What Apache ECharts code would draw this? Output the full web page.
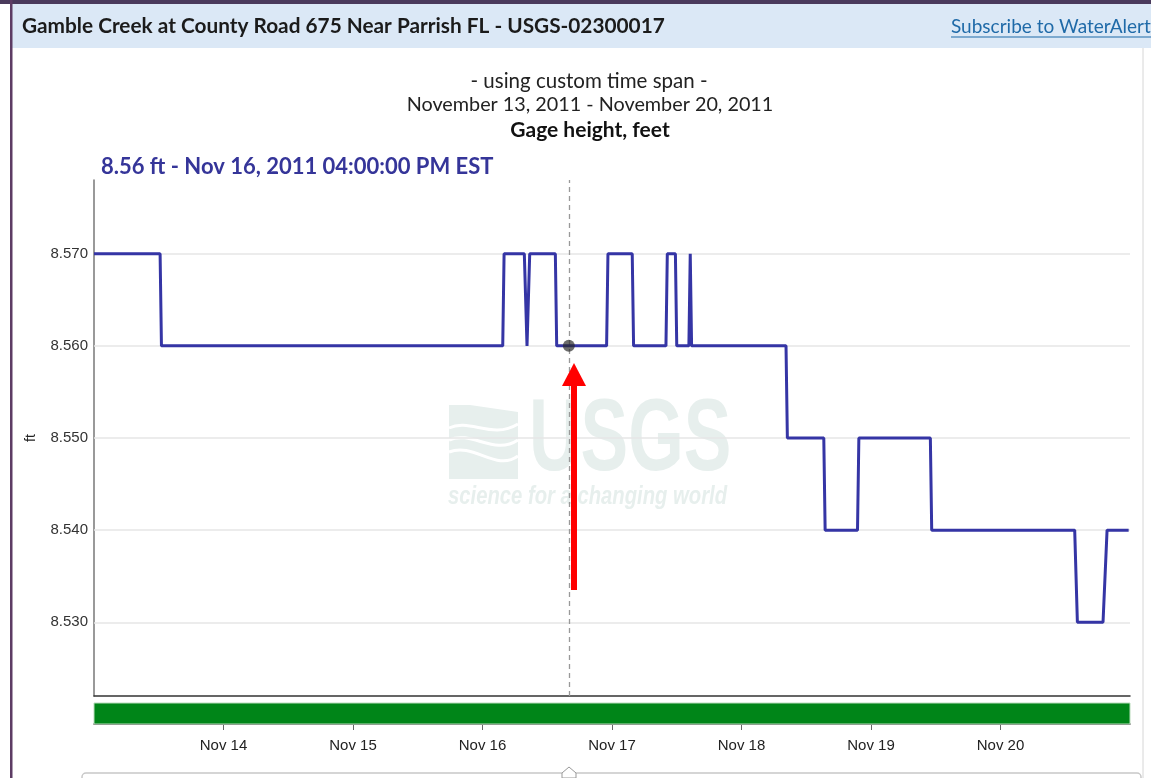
<!DOCTYPE html>
<html>
<head>
<meta charset="utf-8">
<title>Gage height</title>
<script src="https://cdn.jsdelivr.net/npm/echarts@6/dist/echarts.min.js"></script>
<style>
  html, body { margin: 0; padding: 0; background: #fff; }
  #chart { width: 1151px; height: 778px; }
</style>
</head>
<body>
<div id="chart"></div>
<script>
// hours since Nov 13, 2011 00:00 EST, and gage height in feet
var hours = [0, 12.25, 12.5, 75.75, 76.0, 79.75, 80.25, 80.75, 85.5, 85.75,
  95.0, 95.25, 99.75, 100.0, 106.0, 106.25, 107.75, 108.0, 110.25, 110.5,
  110.75, 128.25, 128.5, 135.25, 135.5, 141.5, 141.75, 155.0, 155.25, 181.75,
  182.25, 187.0, 187.75, 191.75];
var gageFt = [8.57, 8.57, 8.56, 8.56, 8.57, 8.57, 8.56, 8.57, 8.57, 8.56,
  8.56, 8.57, 8.57, 8.56, 8.56, 8.57, 8.57, 8.56, 8.56, 8.57,
  8.56, 8.56, 8.55, 8.55, 8.54, 8.54, 8.55, 8.55, 8.54, 8.54,
  8.53, 8.53, 8.54, 8.54];

var yTicks = [8.53, 8.54, 8.55, 8.56, 8.57];
var dayTicks = [24, 48, 72, 96, 120, 144, 168];
var dayLabels = ['Nov 14', 'Nov 15', 'Nov 16', 'Nov 17', 'Nov 18', 'Nov 19', 'Nov 20'];
var cursorPoint = [88, 8.56];      // Nov 16 04:00 PM
var approvedSpan = [0, 192];       // approved data for whole window

var lineColor = '#3535a5';
var watermark = '#e7efed';

var seriesData = hours.map(function (h, i) { return [h, gageFt[i]]; });

var myChart = echarts.init(document.getElementById('chart'));

var option = {
  animation: false,
  backgroundColor: '#fff',
  grid: [
    { left: 94, right: 21, top: 180, height: 516 },
    { left: 94, right: 21, top: 703, height: 21 }
  ],
  xAxis: [
    {
      type: 'value', gridIndex: 0, min: 0, max: 192,
      axisLine: { show: true, lineStyle: { color: '#333', width: 1.5 } },
      axisTick: { show: false }, axisLabel: { show: false }, splitLine: { show: false }
    },
    {
      type: 'value', gridIndex: 1, min: 0, max: 192, position: 'bottom', offset: 6,
      axisLine: { show: true, lineStyle: { color: '#333', width: 1.5 } },
      axisTick: { show: true, customValues: dayTicks, length: 6, lineStyle: { color: '#666' } },
      axisLabel: {
        customValues: dayTicks, margin: 8, color: '#222', fontSize: 15,
        fontFamily: 'Liberation Sans',
        formatter: function (v) { return dayLabels[dayTicks.indexOf(v)] || ''; }
      },
      splitLine: { show: false }
    }
  ],
  yAxis: [
    {
      type: 'value', gridIndex: 0, min: 8.522, max: 8.578,
      name: 'ft', nameLocation: 'middle', nameGap: 56, nameRotate: 90,
      nameTextStyle: { color: '#222', fontSize: 14, fontFamily: 'Liberation Sans' },
      axisLine: { show: true, lineStyle: { color: '#777', width: 1.5 } },
      axisTick: { show: false },
      axisLabel: {
        customValues: yTicks, margin: 6, color: '#333', fontSize: 15,
        fontFamily: 'Liberation Sans',
        formatter: function (v) { return v.toFixed(3); }
      },
      splitLine: { show: false }
    },
    { type: 'value', gridIndex: 1, min: 0, max: 1, show: false }
  ],
  series: [
    {
      // horizontal grid lines
      type: 'line', xAxisIndex: 0, yAxisIndex: 0, data: [], silent: true, z: 1,
      markLine: {
        silent: true, symbol: 'none', label: { show: false }, z: 1,
        lineStyle: { color: '#e6e6e6', width: 1.5, type: 'solid' },
        data: yTicks.map(function (v) { return { yAxis: v }; })
      }
    },
    {
      name: 'Gage height', type: 'line', xAxisIndex: 0, yAxisIndex: 0,
      data: seriesData, showSymbol: false, symbol: 'none', z: 3,
      lineStyle: { color: lineColor, width: 3 },
      markLine: {
        silent: true, symbol: 'none', label: { show: false }, z: 2,
        lineStyle: { color: '#999', width: 1.3, type: [5, 4] },
        data: [{ xAxis: cursorPoint[0] }]
      }
    },
    {
      type: 'scatter', xAxisIndex: 0, yAxisIndex: 0, data: [cursorPoint], z: 4,
      symbolSize: 12, itemStyle: { color: 'rgba(40,40,40,0.85)' }
    },
    {
      // approval status bar
      type: 'line', xAxisIndex: 1, yAxisIndex: 1, silent: true,
      data: [[approvedSpan[0], 0.5], [approvedSpan[1], 0.5]],
      symbol: 'none', lineStyle: { opacity: 0 },
      markArea: {
        silent: true,
        itemStyle: { color: '#008518', borderColor: '#b9dcbc', borderWidth: 1 },
        data: [[{ xAxis: approvedSpan[0], yAxis: 0 }, { xAxis: approvedSpan[1], yAxis: 1 }]]
      }
    }
  ],
  graphic: [
    // page chrome
    { type: 'rect', shape: { x: 0, y: 0, width: 1151, height: 4 }, style: { fill: '#4a3a5c' }, silent: true },
    { type: 'rect', shape: { x: 12, y: 4, width: 1139, height: 44 }, style: { fill: '#dbe8f6' }, silent: true },
    { type: 'rect', shape: { x: 10, y: 0, width: 2.5, height: 778 }, style: { fill: '#5d3c64' }, silent: true },
    { type: 'line', shape: { x1: 1143, y1: 48, x2: 1143, y2: 778 }, style: { stroke: '#d6d6d6', lineWidth: 1 }, silent: true },
    {
      type: 'text', x: 22, y: 26.5, silent: true,
      style: { text: 'Gamble Creek at County Road 675 Near Parrish FL - USGS-02300017',
        font: 'bold 20.8px Lato', fill: '#1b1b1b', verticalAlign: 'middle' }
    },
    {
      type: 'text', x: 951, y: 26.5, silent: true,
      style: { text: 'Subscribe to WaterAlert', font: '19px Lato', fill: '#1f6aa8', verticalAlign: 'middle' }
    },
    { type: 'line', shape: { x1: 951, y1: 37, x2: 1151, y2: 37 }, style: { stroke: '#1f6aa8', lineWidth: 1.2 }, silent: true },

    // chart titles
    {
      type: 'text', x: 589, y: 81, silent: true,
      style: { text: '- using custom time span -', font: '20.5px Lato', fill: '#222', align: 'center', verticalAlign: 'middle' }
    },
    {
      type: 'text', x: 590, y: 105, silent: true,
      style: { text: 'November 13, 2011 - November 20, 2011', font: '19.8px Lato', fill: '#222', align: 'center', verticalAlign: 'middle' }
    },
    {
      type: 'text', x: 590, y: 130, silent: true,
      style: { text: 'Gage height, feet', font: 'bold 21px Lato', fill: '#111', align: 'center', verticalAlign: 'middle' }
    },
    {
      type: 'text', x: 101, y: 167, silent: true,
      style: { text: '8.56 ft - Nov 16, 2011 04:00:00 PM EST', font: 'bold 22px Lato', fill: '#353599', verticalAlign: 'middle' }
    },

    // USGS watermark
    { type: 'rect', z: -10, shape: { x: 449, y: 405, width: 69, height: 74 }, style: { fill: watermark }, silent: true },
    { type: 'bezierCurve', z: -9, shape: { x1: 449, y1: 428, cpx1: 470, cpy1: 418, cpx2: 492, cpy2: 440, x2: 518, y2: 424 }, style: { stroke: '#fff', lineWidth: 3, fill: null }, silent: true },
    { type: 'bezierCurve', z: -9, shape: { x1: 449, y1: 440, cpx1: 472, cpy1: 430, cpx2: 494, cpy2: 456, x2: 518, y2: 440 }, style: { stroke: '#fff', lineWidth: 3, fill: null }, silent: true },
    { type: 'bezierCurve', z: -9, shape: { x1: 449, y1: 452, cpx1: 474, cpy1: 442, cpx2: 496, cpy2: 472, x2: 518, y2: 456 }, style: { stroke: '#fff', lineWidth: 3, fill: null }, silent: true },
    { type: 'polygon', z: -9, shape: { points: [[470, 405], [518, 405], [518, 412]] }, style: { fill: '#fff' }, silent: true },
    {
      type: 'text', z: -10, x: 529, y: 442, scaleX: 0.70, silent: true,
      style: { text: 'USGS', font: 'bold 102px "Liberation Sans"', fill: watermark, verticalAlign: 'middle' }
    },
    {
      type: 'text', z: -10, x: 448, y: 497, scaleX: 0.81, silent: true,
      style: { text: 'science for a changing world', font: 'italic bold 25px "Liberation Sans"', fill: watermark, verticalAlign: 'middle' }
    },

    // red arrow annotation
    { type: 'rect', z: 100, shape: { x: 571, y: 384, width: 6, height: 206 }, style: { fill: '#ff0000' }, silent: true },
    { type: 'polygon', z: 100, shape: { points: [[562, 386], [586, 386], [574, 363]] }, style: { fill: '#ff0000' }, silent: true },

    // time slider below
    { type: 'rect', z: 5, shape: { x: 82, y: 773, width: 1059, height: 20, r: 4 }, style: { fill: '#fff', stroke: '#c8c8c8', lineWidth: 1.5 }, silent: true },
    { type: 'polygon', z: 6, shape: { points: [[562, 778], [562, 773], [569, 767], [576, 773], [576, 778]] }, style: { fill: '#fff', stroke: '#999', lineWidth: 1 }, silent: true }
  ]
};

myChart.setOption(option);
</script>
</body>
</html>
